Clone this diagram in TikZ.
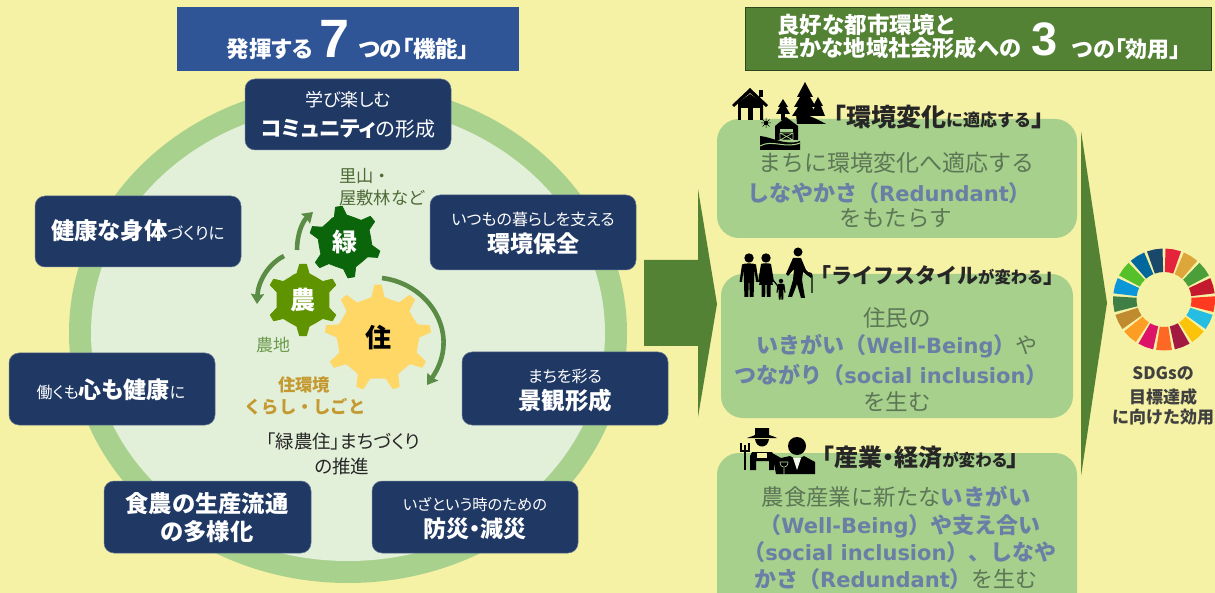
\documentclass[tikz,border=0pt]{standalone}
\usepackage{fontspec}
\setmainfont{Noto Sans CJK JP}[RawFeature=+palt]
\newfontfamily\fw{Noto Sans CJK JP}
\newfontfamily\lat{DejaVu Sans}
\newfontfamily\ar{Liberation Sans}
\usetikzlibrary{arrows.meta,calc}
\definecolor{bg}{HTML}{F5F1A5}
\definecolor{ringc}{HTML}{A9D18E}
\definecolor{innerc}{HTML}{E2EFD9}
\definecolor{navy}{HTML}{1F3864}
\definecolor{headblue}{HTML}{2F5597}
\definecolor{headgreen}{HTML}{548235}
\definecolor{panelc}{HTML}{A6D08B}
\definecolor{bodyc}{HTML}{5C7656}
\definecolor{blueb}{HTML}{6B7FA6}
\definecolor{curvec}{HTML}{5B8C45}
\definecolor{gearA}{HTML}{0B660B}
\definecolor{gearB}{HTML}{5F9300}
\definecolor{gearC}{HTML}{FFD766}
\definecolor{labA}{HTML}{4F6B38}
\definecolor{labB}{HTML}{6B9A4C}
\definecolor{labC}{HTML}{C49A30}
\newcommand{\fs}[1]{\fontsize{#1}{#1}\selectfont}
\newcommand{\la}[1]{{\lat\bfseries\fontsize{21}{21}\selectfont #1}}
\newcommand{\gearshape}[7]{% cx cy rin rout n start color
  \begin{scope}[shift={(#1,#2)}]
  \pgfmathsetmacro{\sp}{360/#5}
  \pgfmathtruncatemacro{\last}{#5-1}
  \fill[#7,draw=#7,line join=round,line width=.8pt] (#6-.30*\sp:#3)
    \foreach \k in {0,...,\last}{
      -- ({#6+\k*\sp-.22*\sp}:#3) -- ({#6+\k*\sp-.09*\sp}:#4) -- ({#6+\k*\sp+.09*\sp}:#4)
      -- ({#6+\k*\sp+.22*\sp}:#3) -- ({#6+\k*\sp+.5*\sp}:#3-1)
    } -- cycle;
  \end{scope}}
\newcommand{\person}[4]{% x, head-centre y, scale, shoulder half width
  \begin{scope}[shift={(#1,#2)},scale=#3]
  \fill (0,0) circle[radius=4.7];
  \fill (-7,6.5) .. controls (-4,5) and (4,5) .. (7,6.5) -- (9.5,24) -- (7,24) -- (5.5,12) -- (5,24) -- (4.6,39) -- (.7,39) -- (.3,25)
     -- (-.3,25) -- (-.7,39) -- (-4.6,39) -- (-5,24) -- (-5.5,12) -- (-7,24) -- (-9.5,24) -- cycle;
  \end{scope}}
\tikzset{
  every node/.style={inner sep=0pt},
  funcbox/.style={rounded corners=10pt,fill=navy,draw=navy!70!white,line width=.5pt},
  panel/.style={rounded corners=22pt,fill=panelc},
  txt/.style={anchor=base,align=center},
  wt/.style={txt,text=white},
  curve/.style={draw=curvec,line width=4.6pt,-{Stealth[length=10pt,width=13pt,inset=1pt]}},
  bigarrow/.style={fill=headgreen},
}
\begin{document}
\begin{tikzpicture}[x=1pt,y=-1pt]
\useasboundingbox (0,0) rectangle (1215,593);
\fill[bg] (0,0) rectangle (1215,593);
% ring
\fill[ringc] (348,333) ellipse[x radius=279,y radius=250];
\fill[innerc] (348,333) ellipse[x radius=257,y radius=228];
% headers
\fill[headblue] (177,7) rectangle (519,71);
\node[wt] (h1) at (348,58) {\bfseries\fs{22.5}発揮する\hspace{7pt}{\ar\fs{54}7}\hspace{9pt}つの「機能」};
\fill[headgreen,draw=black!45!headgreen,line width=.8pt] (745,7) rectangle (1211,70);
\node[wt,anchor=base west] (h2a) at (777,34) {\bfseries\fs{22.5}\fw 良好な都市環境と};
\node[wt,anchor=base west] (h2b) at (777,57) {\bfseries\fs{22.2}\fw 豊かな地域社会形成への};
\node[wt,anchor=base west] (h2c) at (1031,56) {\ar\bfseries\fs{47}3};
\node[wt,anchor=base west] (h2d) at (1072,58) {\bfseries\fs{22}つの「効用」};
% function boxes
\filldraw[funcbox] (245,79) rectangle (451,150);
\filldraw[funcbox] (35,196) rectangle (241,267);
\filldraw[funcbox] (430,195) rectangle (636,270);
\filldraw[funcbox] (9,353) rectangle (215,425);
\filldraw[funcbox] (462,352) rectangle (668,425);
\filldraw[funcbox] (104,481) rectangle (311,553);
\filldraw[funcbox] (372,481) rectangle (578,553);
\node[wt] (t1a) at (348,107) {\fs{18}学び楽しむ};
\node[wt] (t1b) at (348,137) {{\bfseries\fs{21.5}コミュニティ}{\fs{20}の形成}};
\node[wt] (t2) at (138,240) {{\bfseries\fs{23.3}健康な身体}{\fs{16.6}づくりに}};
\node[wt] (t3a) at (533,226) {\fs{16}いつもの暮らしを支える};
\node[wt] (t3b) at (533,253) {\bfseries\fs{23}環境保全};
\node[wt] (t4) at (111,398) {{\fs{16}働くも}{\bfseries\fs{23}心も健康}{\fs{16}に}};
\node[wt] (t5a) at (565,382) {\fs{16}まちを彩る};
\node[wt] (t5b) at (565,409) {\bfseries\fs{23.5}景観形成};
\node[wt] (t6a) at (207,512) {\bfseries\fs{23.3}食農の生産流通};
\node[wt] (t6b) at (207,540) {\bfseries\fs{23.3}の多様化};
\node[wt] (t7a) at (475,510) {\fs{15.3}いざという時のための};
\node[wt] (t7b) at (475,537) {\bfseries\fs{23}防災・減災};
% curved arrows
\coordinate (c1s) at (297,250); \coordinate (c1e) at (313,212);
\coordinate (c2s) at (284,256); \coordinate (c2e) at (257,304);
\coordinate (c3s) at (382,278); \coordinate (c3e) at (427,385);
\draw[curve] (c1s) .. controls (297,235) and (302,222) .. (c1e);
\draw[curve] (c2s) .. controls (268,264) and (258,282) .. (c2e);
\draw[curve] (c3s) .. controls (430,284) and (462,335) .. (c3e);
% gears
\gearshape{378}{338}{41}{53}{9}{-10}{gearC}
\gearshape{303}{300}{27}{36}{6}{-90}{gearB}
\gearshape{345}{242}{27}{36}{6}{-100}{gearA}
\node[wt] (gz) at (345,252) {\bfseries\fs{25}緑};
\node[wt] (gn) at (303,310) {\bfseries\fs{25}農};
\node[txt] (gj) at (378,348) {\bfseries\fs{26}住};
\node[txt,anchor=base west,text=labA] (l1a) at (339,183) {\fw\fs{17.3}里山・};
\node[txt,anchor=base west,text=labA] (l1b) at (339,205) {\fw\fs{17.3}屋敷林など};
\node[txt,anchor=base west,text=labB] (l2) at (256,352) {\fw\fs{17}農地};
\node[txt,text=labC] (l3a) at (304,391) {\fw\bfseries\fs{17.3}住環境};
\node[txt,text=labC] (l3b) at (305,413) {\fw\bfseries\fs{17.3}くらし・しごと};
\node[txt,text=black!85] (l4a) at (343,448) {\fs{18.5}「緑農住」まちづくり};
\node[txt,text=black!85] (l4b) at (342,473) {\fs{18.5}の推進};
% big arrows
\fill[bigarrow] (644,260) -- (698,260) -- (698,189) -- (717,304) -- (698,417) -- (698,346) -- (644,346) -- cycle;
\fill[bigarrow] (1081,131) -- (1107,303) -- (1081,476) -- cycle;
% panels
\fill[panel] (717,119) rectangle (1077,238);
\fill[panel] (721,274) rectangle (1073,418);
\fill[panel] (717,453) rectangle (1077,593+22);
% panel body
\node[txt,text=bodyc] (p1a) at (896,172) {\fw\fs{23}まちに環境変化へ適応する};
\node[txt,text=blueb] (p1b) at (889,202) {\fw\bfseries\fs{22}しなやかさ（\la{Redundant}）};
\node[txt,text=bodyc] (p1c) at (896,227) {\fw\fs{22.5}をもたらす};
\node[txt,text=bodyc] (p2a) at (897,327) {\fw\fs{22.5}住民の};
\node[txt,text=blueb] (p2b) at (897,354) {\fw{\bfseries\fs{22}いきがい（\la{Well-Being}）}{\color{bodyc}\fs{22}や}};
\node[txt,text=blueb] (p2c) at (891,383) {\fw\bfseries\fs{22}つながり（\la{social inclusion}）};
\node[txt,text=bodyc] (p2d) at (897,410) {\fw\fs{22.5}を生む};
\node[txt,text=bodyc] (p3a) at (896,505) {\fw\fs{22.4}農食産業に新たな{\bfseries\color{blueb}いきがい}};
\node[txt,text=blueb] (p3b) at (900,533) {\fw\bfseries\fs{22}（\la{Well-Being}）や支え合い};
\node[txt,text=blueb] (p3c) at (900,560) {\fw\bfseries\fs{22}（\la{social inclusion}）、しなや};
\node[txt,text=blueb] (p3d) at (896,587) {\fw{\bfseries\fs{22}かさ（\la{Redundant}）}{\color{bodyc}\fs{22}を生む}};
% panel titles
\node[txt,anchor=base west,text=black!85] (q1) at (821,127) {\bfseries\fw\fs{25}「環境変化{\fs{17}に適応する}」};
\node[txt,anchor=base west,text=black!85] (q2) at (810,284) {\bfseries\fw\fs{21}「ライフスタイル{\fs{16.3}が変わる}」};
\node[txt,anchor=base west,text=black!85] (q3) at (822,466) {\bfseries\fs{24}「産業・経済{\fs{16.5}が変わる}」};
% icon: house + trees + barn
\fill[black] (732,105) -- (750,88) -- (768,105) -- (766,107) -- (750,93) -- (734,107) -- cycle;
\fill[black] (759,90) rectangle (763,97);
\fill[black] (738,103) -- (750,94) -- (763,103) -- (763,120) -- (738,120) -- cycle;
\fill[bg] (741,108) rectangle (748,120);
\fill[bg] (753,108) rectangle (760,120);
\fill[black] (805,82) -- (813,97) -- (810,97) -- (816,107) -- (812,107) -- (818,116) -- (792,116) -- (798,107) -- (794,107) -- (800,97) -- (797,97) -- cycle;
\fill[black] (818,97) -- (823,106) -- (821,106) -- (825,116) -- (811,116) -- (815,106) -- (813,106) -- cycle;
\fill[black] (783,99) -- (788,107) -- (786,107) -- (790,114) -- (776,114) -- (780,107) -- (778,107) -- cycle;
\fill[black] (796,114) .. controls (805,113) and (815,118) .. (826,124) -- (797,124) -- cycle;
\fill[black] (781,112) rectangle (785,120);
\fill[black] (775,126) -- (786,117) -- (798,126) -- (798,140) -- (775,140) -- cycle;
\fill[panelc] (780,129) rectangle (793,132);
\draw[panelc,line width=.7pt] (780,133) rectangle (793,140) (780,133) -- (793,140) (793,133) -- (780,140);
\fill[black] (766,123) circle[radius=2.2];
\draw[black,line width=.5pt] (761,123) -- (771,123) (766,118) -- (766,128) (762.5,119.5) -- (769.5,126.5) (769.5,119.5) -- (762.5,126.5);
\fill[black] (760,136) .. controls (772,137) and (785,146) .. (800,141) -- (800,150) -- (760,150) -- cycle;
\draw[panelc,line width=1pt] (760,146) .. controls (772,139) and (785,149) .. (800,143);
% icon: family
\person{749}{258}{1}{7}
\begin{scope}[shift={(766,258)}]
  \fill (0,0) circle[radius=4.7];
  \fill (-5,6) .. controls (-3,5) and (3,5) .. (5,6) -- (8,24) -- (6,24) -- (4,13) -- (7,27) -- (4.5,27) -- (4.5,39) -- (.8,39) -- (.6,27) -- (-.6,27) -- (-.8,39) -- (-4.5,39) -- (-4.5,27) -- (-7,27) -- (-4,13) -- (-6,24) -- (-8,24) -- cycle;
\end{scope}
\draw[black,line width=1.2pt] (773,280) -- (781,290);
\person{781}{281}{.48}{5}
\begin{scope}[shift={(798,252)}]
  \fill (0,0) circle[radius=4.5];
  \fill (-5,6) -- (3,6) -- (8,18) -- (14,24) -- (13,26) -- (5,20) -- (4,28) -- (7,46) -- (3,46) -- (-1,32) -- (-6,45) -- (-10,45) -- (-5,28) -- (-4,17) -- (-10,24) -- (-12,22) -- cycle;
\end{scope}
\draw[black,line width=1.3pt] (812,293) -- (812,276) .. controls (812,272) and (807,272) .. (807,275);
% icon: farmer + waiter
\fill[black] (747,438) .. controls (752,436) and (754,436) .. (755,435) -- (755,428) -- (769,428) -- (769,435) .. controls (771,436) and (774,436) .. (777,438) -- cycle;
\fill[black] (755,439) -- (769,439) .. controls (768,449) and (756,449) .. (755,439) -- cycle;
\fill[black] (752,452) -- (772,452) -- (774,456) -- (774,470) -- (769,470) -- (769,461) -- (756,461) -- (756,470) -- (750,470) -- (750,456) -- cycle;
\fill[bg] (757,453) rectangle (767,458);
\draw[black,line width=1.2pt] (745,445) -- (745,470) (741,443) -- (741,451) -- (749,451) -- (749,443);
\fill[black] (797,446) circle[radius=9];
\fill[black] (772,453) -- (781,458) -- (790,456) -- (797,460) -- (804,456) -- (815,462) -- (815,474) -- (776,474) -- cycle;
\fill[white!85!panelc] (793,458) -- (801,458) -- (797,470) -- cycle;
\draw[panelc!70!white,line width=.6pt] (780,462) .. controls (780,469) and (788,469) .. (788,462) -- cycle (784,468) -- (784,474);
% SDG wheel
\begin{scope}[shift={(1164,299.5)}]
\foreach \cc [count=\i from 0] in {E5243B,DDA63A,4C9F38,C5192D,FF3A21,26BDE2,FCC30B,A21942,FD6925,DD1367,FD9D24,BF8B2E,3F7E44,0A97D9,56C02B,00689D,19486A}{
  \definecolor{tmpc}{HTML}{\cc}
  \pgfmathsetmacro{\aa}{-90+\i*360/17+1.7}
  \pgfmathsetmacro{\bb}{-90+(\i+1)*360/17-1.7}
  \pgfmathsetmacro{\mm}{(\aa+\bb)/2}
  \fill[tmpc] (\aa:51) -- (\mm:51) -- (\bb:51) -- (\bb:27.5) -- (\mm:27.5) -- (\aa:27.5) -- cycle;
}
\end{scope}
\node[txt,text=black!75] (s1) at (1163,379) {\bfseries\fs{17}SDGsの};
\node[txt,text=black!75] (s2) at (1163,403) {\bfseries\fs{17}目標達成};
\node[txt,text=black!75] (s3) at (1163,423) {\bfseries\fs{17}\fw に向けた効用};
\end{tikzpicture}
\end{document}
